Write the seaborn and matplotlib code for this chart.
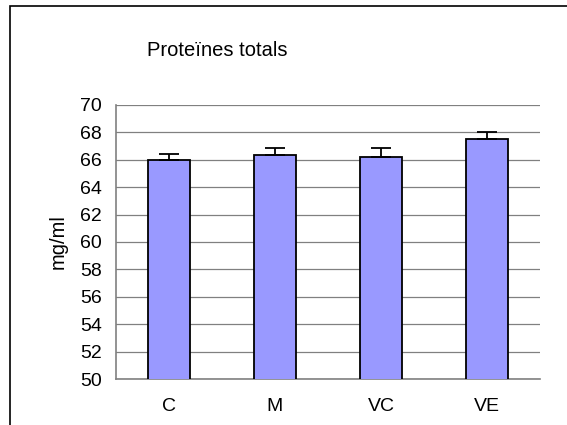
import pandas as pd
import matplotlib.pyplot as plt
import seaborn as sns
from matplotlib.patches import Rectangle

# Data
groups = ["C", "M", "VC", "VE"]
means = [66.0, 66.35, 66.2, 67.55]
errors = [0.45, 0.5, 0.65, 0.5]

title = "Proteïnes totals"
ylabel = "mg/ml"
yticks = list(range(50, 71, 2))

sns.set_theme(style="white")
plt.rcParams['font.family'] = ['Liberation Sans', 'DejaVu Sans']
plt.rcParams['text.color'] = 'black'
plt.rcParams['axes.labelcolor'] = 'black'
plt.rcParams['xtick.color'] = 'black'
plt.rcParams['ytick.color'] = 'black'

df = pd.DataFrame({"group": groups, "value": means, "err": errors})

fig = plt.figure(figsize=(5.67, 4.25), dpi=100)
ax = fig.add_axes([116 / 567, 1 - 379 / 425, 424 / 567, 274 / 425])

sns.barplot(data=df, x="group", y="value", color="#9999FF", width=0.4,
            edgecolor="black", linewidth=1.3, saturation=1, ax=ax, zorder=3)
# Excel-style upper error bars only
ax.errorbar(range(len(groups)), df["value"], yerr=[[0] * len(groups), df["err"]],
            fmt="none", ecolor="black", elinewidth=1.3, capsize=7, capthick=1.3, zorder=4)

ax.set_ylim(50, 70)
ax.set_xlim(-0.5, len(groups) - 0.5)
ax.set_yticks(yticks)
ax.yaxis.grid(True, color="#808080", linewidth=0.9)
ax.set_axisbelow(True)

for s in ["top", "right"]:
    ax.spines[s].set_visible(False)
for s in ["left", "bottom"]:
    ax.spines[s].set_color("#808080")
    ax.spines[s].set_linewidth(1.2)

# category-boundary ticks on the x axis
ax.set_xticks([i - 0.5 for i in range(len(groups) + 1)], minor=False)
ax.set_xticklabels([])
ax.set_xticks(range(len(groups)), minor=True)
ax.set_xticklabels(groups, minor=True, fontsize=14)
ax.tick_params(axis="x", which="major", direction="out", length=5, color="black", width=1)
ax.tick_params(axis="x", which="minor", length=0, pad=14)
ax.tick_params(axis="y", direction="out", length=5, color="black", width=1, labelsize=14, pad=5)

ax.set_xlabel("")
ax.set_ylabel(ylabel, fontsize=14.5, labelpad=9)

fig.text(147 / 567, 1 - 50 / 425, title, fontsize=14.5, va="center", ha="left")

# outer chart frame (bottom edge falls outside the image)
fig.add_artist(Rectangle((10 / 567, -0.2), 1.2, 0.2 + 1 - 6 / 425,
                         transform=fig.transFigure, fill=False,
                         edgecolor="black", linewidth=1.2))

fig.savefig("out.png", dpi=100)
